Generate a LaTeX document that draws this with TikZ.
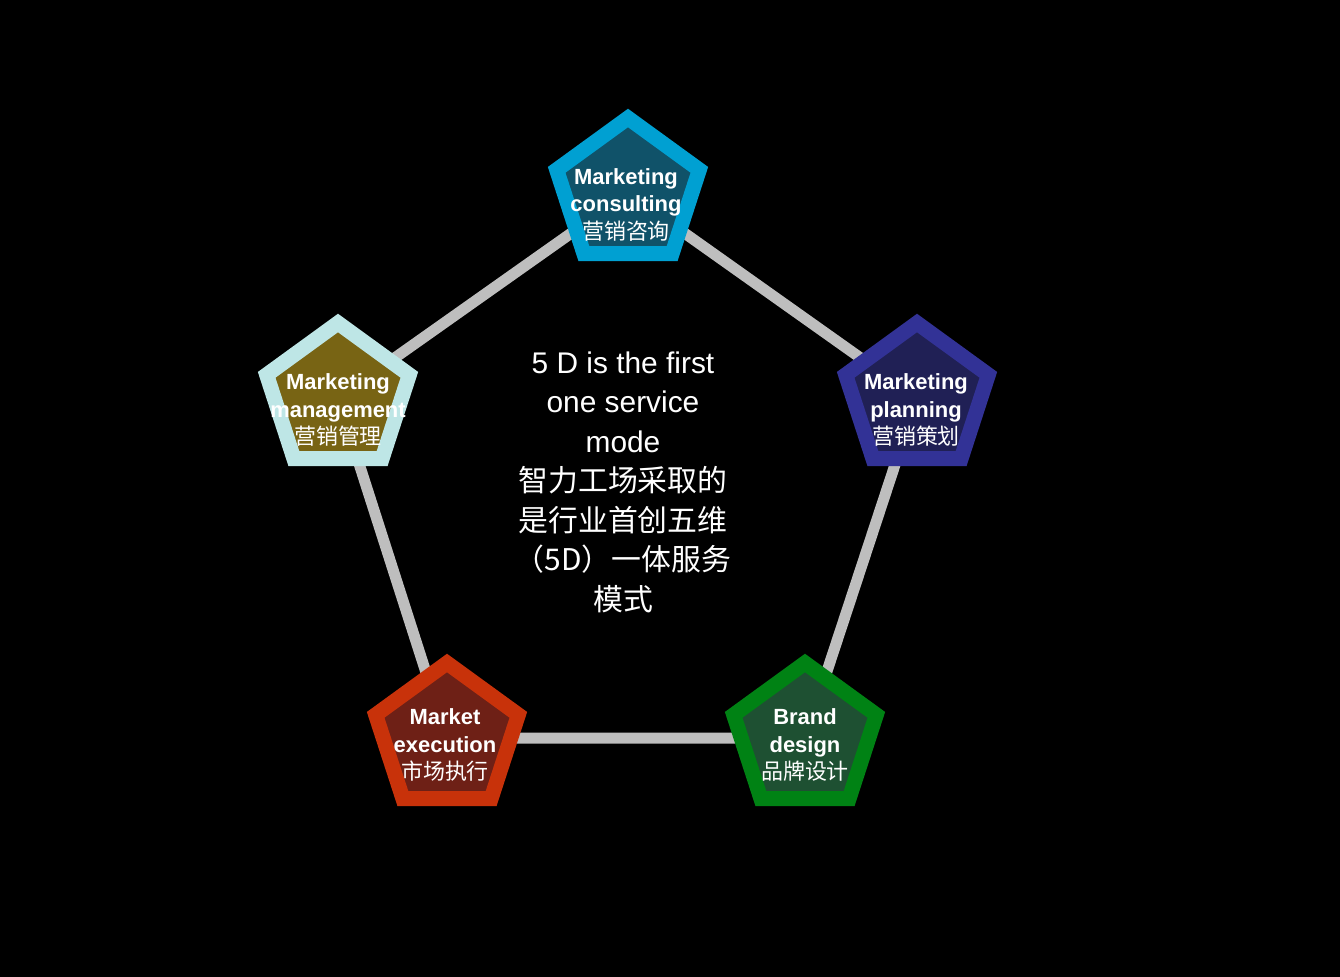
\documentclass[tikz,border=0pt]{standalone}
\usepackage{fontspec}
\setmainfont{Liberation Sans}
\newfontfamily\cjk{Noto Sans CJK SC}
\usetikzlibrary{shapes.geometric}
\definecolor{c1o}{RGB}{0,160,210}\definecolor{c1i}{RGB}{16,82,105}
\definecolor{c2o}{RGB}{50,50,150}\definecolor{c2i}{RGB}{32,32,85}
\definecolor{c3o}{RGB}{190,230,230}\definecolor{c3i}{RGB}{120,100,20}
\definecolor{c4o}{RGB}{200,50,10}\definecolor{c4i}{RGB}{110,32,22}
\definecolor{c5o}{RGB}{0,130,20}\definecolor{c5i}{RGB}{30,80,50}
\definecolor{link}{RGB}{190,190,190}
\tikzset{
 penta/.style={regular polygon,regular polygon sides=5,minimum size=150\pxu,line width=15\pxu,inner sep=0},
 lbl/.style={text=white,align=center,font=\bfseries\fontsize{12.5}{15.5}\selectfont},
 link/.style={draw=link,line width=11\pxu}
}
\newlength\pxu \setlength\pxu{0.02cm}
\begin{document}
\begin{tikzpicture}[x=0.02cm,y=-0.02cm]
\fill[black] (0,0) rectangle (1340,977);
\useasboundingbox (0,0) rectangle (1340,977);
\coordinate (t) at (628,193);
\coordinate (r) at (917,398);
\coordinate (l) at (338,398);
\coordinate (bl) at (447,738);
\coordinate (br) at (805,738);
\draw[link] (t)--(r)--(br)--(bl)--(l)--cycle;
\node[penta,draw=c1o,fill=c1i] (p1) at (t) {};
\node[penta,draw=c2o,fill=c2i] (p2) at (r) {};
\node[penta,draw=c3o,fill=c3i] (p3) at (l) {};
\node[penta,draw=c4o,fill=c4i] (p4) at (bl) {};
\node[penta,draw=c5o,fill=c5i] (p5) at (br) {};
\node[lbl] (x1) at (626,205) {Marketing\\consulting\\{\cjk\mdseries 营销咨询}};
\node[lbl] (x2) at (916,410) {Marketing\\planning\\{\cjk\mdseries 营销策划}};
\node[lbl] (x3) at (338,410) {Marketing\\management\\{\cjk\mdseries 营销管理}};
\node[lbl] (x4) at (445,745) {Market\\execution\\{\cjk\mdseries 市场执行}};
\node[lbl] (x5) at (805,745) {Brand\\design\\{\cjk\mdseries 品牌设计}};
\node[text=white,align=center,font=\fontsize{17}{22.5}\selectfont] (c) at (623,482)
 {5 D is the first\\one service\\mode\\{\cjk\fontsize{17}{22.5}\selectfont 智力工场采取的}\\{\cjk 是行业首创五维}\\{\cjk （5D）一体服务}\\{\cjk 模式}};
\end{tikzpicture}
\end{document}
